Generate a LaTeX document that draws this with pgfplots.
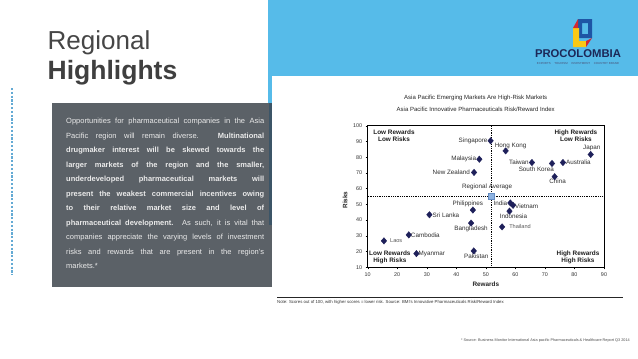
\documentclass[border=0pt]{standalone}
\usepackage{fontspec}
\setmainfont{Liberation Sans}
\usepackage{pgfplots}
\pgfplotsset{compat=1.18}
\usepackage{pgfplotstable}
\definecolor{slideblue}{RGB}{86,187,233}
\definecolor{dotblue}{RGB}{100,170,212}
\definecolor{boxgray}{RGB}{91,97,103}
\definecolor{boxstrip}{RGB}{60,85,103}
\definecolor{navy}{RGB}{30,32,90}
\definecolor{avgblue}{RGB}{141,179,226}
\definecolor{avgedge}{RGB}{100,140,195}
\definecolor{titlegray}{RGB}{70,70,70}
\definecolor{logonavy}{RGB}{28,40,88}
\definecolor{logoblue}{RGB}{30,85,165}
\definecolor{logoyellow}{RGB}{250,200,20}
\definecolor{logored}{RGB}{210,40,50}
\newcommand{\fs}[2]{\fontsize{#1bp}{#2bp}\selectfont}

\pgfplotstableread{
x y
51.6 90.4
56.7 84.0
85.5 81.7
47.8 78.7
65.6 76.6
72.4 76.0
76.1 76.6
46.0 70.3
73.3 67.6
45.6 46.4
58.3 50.9
59.2 49.4
58.0 45.7
30.9 43.4
45.0 38.1
55.5 35.7
23.9 30.6
15.5 26.8
26.5 18.7
45.9 20.4
}\countries

\begin{document}
\begin{tikzpicture}[
 cl/.style={font=\fs{6.3}{7}, text=black!82, inner sep=0pt},
 ql/.style={font=\bfseries\fs{6.4}{7.2}, text=black!88, inner sep=0pt, align=center},
]
\path[use as bounding box, fill=white] (0bp,0bp) rectangle (638bp,-359bp);
% blue block
\fill[slideblue] (268bp,0bp) rectangle (638bp,-76bp);
\fill[slideblue] (268bp,-76bp) rectangle (272bp,-103bp);
% gray box
\fill[boxgray] (52bp,-103bp) rectangle (272bp,-287bp);
\fill[boxstrip] (268.5bp,-103bp) rectangle (272bp,-225bp);
% dotted line
\draw[dotblue, line width=2.2bp, dash pattern=on 2.2bp off 1.6bp] (12bp,-88bp) -- (12bp,-275bp);
% titles
\node[anchor=base west, inner sep=0pt, text=titlegray, font=\fs{26}{30}] at (47.5bp,-49bp) {Regional};
\node[anchor=base west, inner sep=0pt, text=titlegray!90!black, font=\bfseries\fs{26.5}{30}] at (47.5bp,-79bp) {Highlights};
% box text
\node[anchor=north west, inner sep=0pt, text width=198bp, align=justify, text=white!92!black, font=\fs{7.5}{14.5}] at (66bp,-118.3bp) {%
Opportunities for pharmaceutical companies in the Asia\linebreak
Pacific region will remain diverse. \textbf{Multinational\linebreak
drugmaker interest will be skewed towards the\linebreak
larger markets of the region and the smaller,\linebreak
underdeveloped pharmaceutical markets will\linebreak
present the weakest commercial incentives owing\linebreak
to their relative market size and level of\linebreak
pharmaceutical development.} As such, it is vital that\linebreak
companies appreciate the varying levels of investment\linebreak
risks and rewards that are present in the region's\linebreak
markets.*};
% logo
\fill[logoblue, even odd rule] (578bp,-19bp) rectangle (592bp,-38bp) (582bp,-23bp) rectangle (588bp,-34bp);
\fill[logoyellow] (573bp,-28bp) -- (579bp,-28bp) -- (579bp,-41bp) -- (586bp,-41bp) -- (586bp,-47bp) -- (573bp,-47bp) -- cycle;
\fill[logored] (573bp,-28bp) -- (578bp,-19bp) -- (578bp,-28bp) -- cycle;
\fill[logored] (586bp,-41bp) -- (592bp,-38bp) -- (586bp,-47bp) -- cycle;
\node[inner sep=0pt, text=logonavy, font=\bfseries\fs{11.3}{12}] at (578bp,-53.7bp) {PROCOLOMBIA};
\node[inner sep=0pt, text=logonavy!80, font=\fs{2.9}{3}] at (578bp,-63.3bp) {EXPORTS \quad TOURISM \quad INVESTMENT \quad COUNTRY BRAND};
% chart titles
\node[inner sep=0pt, text=black!85, font=\fs{6}{7}] at (475.7bp,-98.3bp) {Asia Pacific Emerging Markets Are High-Risk Markets};
\node[inner sep=0pt, text=black!85, font=\fs{6}{7}] at (475.7bp,-109.3bp) {Asia Pacific Innovative Pharmaceuticals Risk/Reward Index};
% footer
\draw[black!85, line width=0.7bp] (277bp,-297bp) -- (623bp,-297bp);
\node[anchor=west, inner sep=0pt, text=black!80, font=\fs{4.3}{5}] at (277bp,-302.7bp) {Note: Scores out of 100, with higher scores = lower risk. Source: BMI's Innovative Pharmaceuticals Risk/Reward Index};
\node[anchor=east, inner sep=0pt, text=black!70, font=\fs{3.8}{4}] at (630bp,-340.5bp) {* Source: Business Monitor International Asia pacific Pharmaceuticals \& Healthcare Report Q3 2014};

\begin{axis}[
 at={(367.7bp,-267.3bp)}, anchor=south west,
 width=236.3bp, height=141.6bp, scale only axis,
 xmin=10, xmax=90, ymin=10, ymax=100,
 xtick={10,20,...,90}, ytick={10,20,...,100},
 tick pos=left, tick align=outside, major tick length=2bp,
 axis line style={black, line width=0.5bp},
 tick style={black, line width=0.4bp},
 tick label style={font=\fs{5.4}{6}, text=black!80},
 /pgf/number format/assume math mode=true,
 xlabel={Rewards}, ylabel={Risks},
 xlabel style={font=\bfseries\fs{6.4}{7}, text=black!85, at={(axis description cs:0.5,-0.12)}, anchor=center},
 ylabel style={font=\bfseries\fs{6.4}{7}, text=black!85, at={(axis description cs:-0.096,0.475)}, anchor=center},
 clip=false,
]
\addplot[black, line width=0.6bp, dash pattern=on 0.8bp off 1bp] coordinates {(51.8,10) (51.8,100)};
\addplot[black, line width=0.6bp, dash pattern=on 0.8bp off 1bp] coordinates {(10,55.1) (90,55.1)};
\addplot[only marks, mark=diamond*, mark size=3.2bp, mark options={xscale=1.15, fill=navy, draw=navy}] table[x=x,y=y] {\countries};
\addplot[only marks, mark=square*, mark size=3bp, mark options={fill=avgblue, draw=avgedge, line width=0.4bp}] coordinates {(51.8,55.1)};

\node[cl, anchor=east, xshift=-3bp] at (axis cs:51.6,90.4) {Singapore};
\node[cl, anchor=south, xshift=5bp, yshift=2bp] at (axis cs:56.7,84.0) {Hong Kong};
\node[cl, anchor=south, xshift=1bp, yshift=3bp] at (axis cs:85.5,81.7) {Japan};
\node[cl, anchor=east, xshift=-3bp] at (axis cs:47.8,78.7) {Malaysia};
\node[cl, anchor=east, xshift=-3bp] at (axis cs:65.6,76.6) {Taiwan};
\node[cl, anchor=north east, xshift=2bp, yshift=-3bp] at (axis cs:72.4,76.0) {South Korea};
\node[cl, anchor=west, xshift=3bp] at (axis cs:76.1,76.6) {Australia};
\node[cl, anchor=east, xshift=-4bp] at (axis cs:46.0,70.3) {New Zealand};
\node[cl, anchor=north, xshift=3bp, yshift=-2.5bp] at (axis cs:73.3,67.6) {China};
\node[cl, anchor=south, xshift=-4bp, yshift=6bp] at (axis cs:51.8,55.1) {Regional Average};
\node[cl, anchor=south, xshift=-5bp, yshift=3bp] at (axis cs:45.6,46.4) {Philippines};
\node[cl, anchor=east, xshift=-3bp] at (axis cs:58.3,50.9) {India};
\node[cl, anchor=west, xshift=2bp, yshift=-1bp] at (axis cs:59.2,49.4) {Vietnam};
\node[cl, anchor=north, xshift=4bp, yshift=-2.5bp] at (axis cs:58.0,45.7) {Indonesia};
\node[cl, anchor=west, xshift=3bp] at (axis cs:30.9,43.4) {Sri Lanka};
\node[cl, anchor=north, yshift=-3bp] at (axis cs:45.0,38.1) {Bangladesh};
\node[cl, anchor=west, xshift=7bp, text=black!65, font=\fs{5.6}{6}] at (axis cs:55.5,35.7) {Thailand};
\node[cl, anchor=west, xshift=2bp] at (axis cs:23.9,30.6) {Cambodia};
\node[cl, anchor=west, xshift=6bp, text=black!65, font=\fs{5.6}{6}] at (axis cs:15.5,26.8) {Laos};
\node[cl, anchor=west, xshift=2bp] at (axis cs:26.5,18.7) {Myanmar};
\node[cl, anchor=north, xshift=2.5bp, yshift=-3bp] at (axis cs:45.9,20.4) {Pakistan};

\node[ql] at (axis cs:18.9,93.4) {Low Rewards\\Low Risks};
\node[ql] at (axis cs:80.5,93.4) {High Rewards\\Low Risks};
\node[ql] at (axis cs:17.5,16.5) {Low Rewards\\High Risks};
\node[ql] at (axis cs:81.2,16.5) {High Rewards\\High Risks};
\end{axis}
\end{tikzpicture}
\end{document}
